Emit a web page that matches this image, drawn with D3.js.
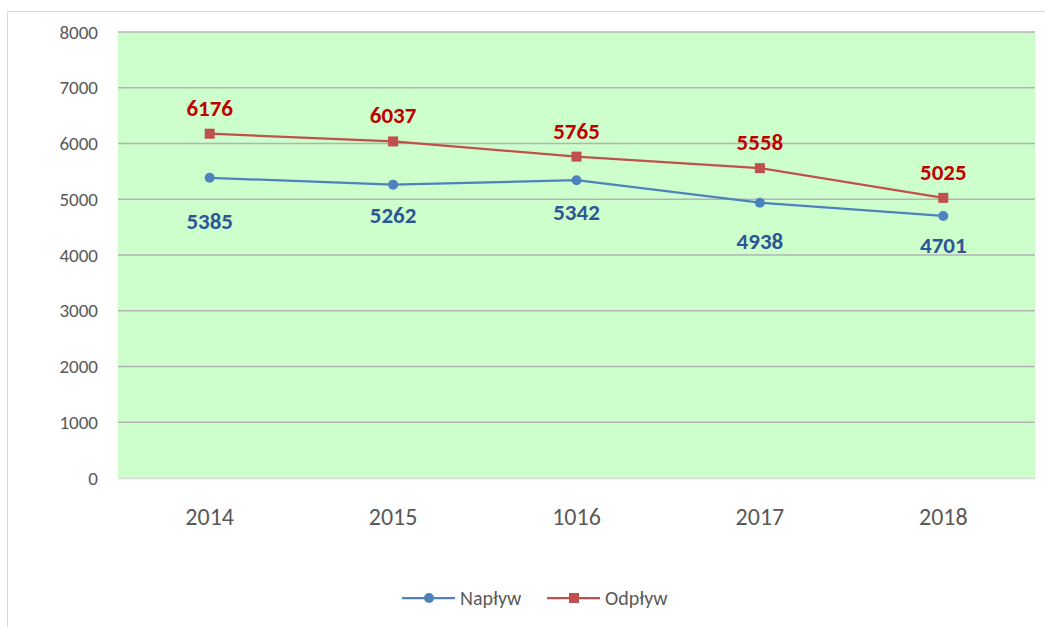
<!DOCTYPE html>
<html>
<head>
<meta charset="utf-8">
<script src="https://cdn.jsdelivr.net/npm/d3@7"></script>
<style>
  body { margin: 0; background: #fff; }
  svg { display: block; font-family: Carlito, Lato, "Open Sans", sans-serif; }
</style>
</head>
<body>
<script>
// data
var years = ["2014", "2015", "1016", "2017", "2018"];
var naplyw = [5385, 5262, 5342, 4938, 4701];
var odplyw = [6176, 6037, 5765, 5558, 5025];
var yTicks = [0, 1000, 2000, 3000, 4000, 5000, 6000, 7000, 8000];
// label offsets below the blue points (px), as placed in the original
var naplywLabelDy = [51, 38, 40, 46, 37];

var svgWidth = 1045;
var svgHeight = 627;

var plot = { left: 118, right: 1035, top: 32, bottom: 478 };
var fontFamily = "Carlito, Lato, 'Open Sans', sans-serif";

var svg = d3.select("body").append("svg")
  .attr("width", svgWidth)
  .attr("height", svgHeight);

// outer chart frame
svg.append("rect")
  .attr("x", 7.5).attr("y", 11.5)
  .attr("width", 1060).attr("height", 640)
  .attr("fill", "#fff")
  .attr("stroke", "#d9d9d9");

var x = d3.scaleBand().domain(years).range([plot.left, plot.right]);
var y = d3.scaleLinear().domain([0, 8000]).range([plot.bottom, plot.top]);

// plot background
svg.append("rect")
  .attr("x", plot.left).attr("y", plot.top)
  .attr("width", plot.right - plot.left)
  .attr("height", plot.bottom - plot.top)
  .attr("fill", "#ccffcc");

// gridlines
svg.append("g").selectAll("line")
  .data(yTicks.filter(function(d) { return d > 0; }))
  .enter().append("line")
  .attr("x1", plot.left).attr("x2", plot.right)
  .attr("y1", function(d) { return y(d); })
  .attr("y2", function(d) { return y(d); })
  .attr("stroke", "#b3b3b3")
  .attr("stroke-width", 1.5);

// y axis
var leftAxis = d3.axisLeft(y).tickValues(yTicks).tickFormat(d3.format("d"))
  .tickSize(0).tickPadding(20);
var gy = svg.append("g")
  .attr("transform", "translate(" + plot.left + ",0)")
  .call(leftAxis)
  .attr("font-family", fontFamily);
gy.select(".domain").remove();
gy.selectAll("text").attr("fill", "#595959").style("font-size", "19px");

// x axis
var bottomAxis = d3.axisBottom(x).tickSize(0).tickPadding(30);
var gx = svg.append("g")
  .attr("transform", "translate(0," + plot.bottom + ")")
  .call(bottomAxis)
  .attr("font-family", fontFamily);
gx.select(".domain").attr("stroke", "#d9d9d9").attr("stroke-width", 1.5);
gx.selectAll("text").attr("fill", "#595959").style("font-size", "24px");

var cx = function(d, i) { return x(years[i]) + x.bandwidth() / 2; };

var line = d3.line()
  .x(function(d, i) { return x(years[i]) + x.bandwidth() / 2; })
  .y(function(d) { return y(d); });

var blue = "#4f81bd", red = "#c0504d";

svg.append("path").datum(naplyw)
  .attr("d", line).attr("fill", "none")
  .attr("stroke", blue).attr("stroke-width", 2.25);
svg.append("path").datum(odplyw)
  .attr("d", line).attr("fill", "none")
  .attr("stroke", red).attr("stroke-width", 2.25);

svg.append("g").selectAll("circle")
  .data(naplyw).enter().append("circle")
  .attr("cx", cx)
  .attr("cy", function(d) { return y(d); })
  .attr("r", 5)
  .attr("fill", blue);

svg.append("g").selectAll("rect")
  .data(odplyw).enter().append("rect")
  .attr("x", function(d, i) { return cx(d, i) - 5; })
  .attr("y", function(d) { return y(d) - 5; })
  .attr("width", 10).attr("height", 10)
  .attr("fill", red);

// data labels
svg.append("g").selectAll("text")
  .data(naplyw).enter().append("text")
  .attr("x", cx)
  .attr("y", function(d, i) { return y(d) + naplywLabelDy[i]; })
  .attr("text-anchor", "middle")
  .attr("fill", "#2f5597")
  .style("font-size", "23px").style("font-weight", "bold")
  .text(function(d) { return d; });

svg.append("g").selectAll("text")
  .data(odplyw).enter().append("text")
  .attr("x", cx)
  .attr("y", function(d) { return y(d) - 18; })
  .attr("text-anchor", "middle")
  .attr("fill", "#c00000")
  .style("font-size", "23px").style("font-weight", "bold")
  .text(function(d) { return d; });

// legend
var legend = [
  { name: "Napływ", color: blue, shape: "circle", x: 402 },
  { name: "Odpływ", color: red, shape: "square", x: 547 }
];
var lg = svg.append("g").attr("transform", "translate(0,598)");
legend.forEach(function(l) {
  lg.append("line")
    .attr("x1", l.x).attr("x2", l.x + 53)
    .attr("y1", 0).attr("y2", 0)
    .attr("stroke", l.color).attr("stroke-width", 2.25);
  if (l.shape === "circle") {
    lg.append("circle").attr("cx", l.x + 27).attr("cy", 0).attr("r", 5).attr("fill", l.color);
  } else {
    lg.append("rect").attr("x", l.x + 22).attr("y", -5).attr("width", 10).attr("height", 10).attr("fill", l.color);
  }
  lg.append("text")
    .attr("x", l.x + 58).attr("y", 7)
    .attr("fill", "#595959")
    .style("font-size", "20px")
    .text(l.name);
});
</script>
</body>
</html>
